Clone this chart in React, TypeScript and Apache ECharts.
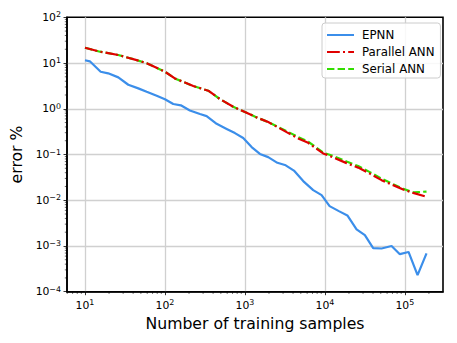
import React, { useEffect, useRef } from "react";
import * as echarts from "echarts";

// ---- data ----
const epnnSamples = [10, 11.5, 15.7, 19.5, 26.1, 34.8, 46.4, 59.1, 78.8, 100, 127, 158, 205, 274, 332, 443, 591, 750, 952, 1213, 1540, 1955, 2548, 3236, 4099, 5358, 7145, 9098, 11450, 14960, 19100, 24900, 31620, 40180, 51140, 68200, 86600, 111200, 144200, 186600];
const epnnError = [11.5, 10.9, 6.46, 5.96, 4.86, 3.35, 2.79, 2.35, 1.92, 1.61, 1.27, 1.19, 0.92, 0.766, 0.692, 0.468, 0.363, 0.294, 0.229, 0.145, 0.103, 0.0877, 0.0658, 0.058, 0.0445, 0.0262, 0.0166, 0.0129, 0.00743, 0.00578, 0.00465, 0.0023, 0.00172, 0.000895, 0.000881, 0.001, 0.000662, 0.00074, 0.00023, 0.000686];

const annSamples = [10, 15.4, 26.1, 44.3, 59.1, 100, 133, 226, 348, 487, 714, 1000, 1400, 1955, 3320, 4640, 6180, 9520, 13330, 18680, 26090, 36520, 51140, 71400, 95200, 127000, 186600];
const parallelError = [21.6, 17.7, 15.0, 11.6, 9.93, 6.46, 4.6, 3.14, 2.48, 1.63, 1.106, 0.85, 0.648, 0.512, 0.309, 0.225, 0.18, 0.1057, 0.0834, 0.0648, 0.0517, 0.0382, 0.0275, 0.0214, 0.0171, 0.0145, 0.0119];
const serialError = [21.6, 17.7, 15.0, 11.6, 9.93, 6.46, 4.6, 3.14, 2.48, 1.63, 1.106, 0.85, 0.648, 0.512, 0.325, 0.24, 0.191, 0.11, 0.09, 0.07, 0.0558, 0.0412, 0.0297, 0.0225, 0.0179, 0.0148, 0.0155];

const seriesNames = ["EPNN", "Parallel ANN", "Serial ANN"];

const xMin = 5.957;
const xMax = 300000;
const yMin = 1e-4;
const yMax = 1e2;

const xMinorTicks = [6, 7, 8, 9, 20, 30, 40, 50, 60, 70, 80, 90, 200, 300, 400, 500, 600, 700, 800, 900, 2000, 3000, 4000, 5000, 6000, 7000, 8000, 9000, 20000, 30000, 40000, 50000, 60000, 70000, 80000, 90000, 200000];
const yMinorTicks = [
  2e-4, 3e-4, 4e-4, 5e-4, 6e-4, 7e-4, 8e-4, 9e-4,
  2e-3, 3e-3, 4e-3, 5e-3, 6e-3, 7e-3, 8e-3, 9e-3,
  2e-2, 3e-2, 4e-2, 5e-2, 6e-2, 7e-2, 8e-2, 9e-2,
  0.2, 0.3, 0.4, 0.5, 0.6, 0.7, 0.8, 0.9,
  2, 3, 4, 5, 6, 7, 8, 9,
  20, 30, 40, 50, 60, 70, 80, 90,
];

const powLabel = (v: number) => {
  const e = Math.round(Math.log10(v));
  const s = e < 0 ? "\u2212" + String(-e) : String(e);
  return "{b|10}{s|" + s + "}";
};
const FONT = "DejaVu Sans";
const labelRich = {
  b: { fontFamily: FONT, fontSize: 10.8, color: "#000" },
  s: { fontFamily: FONT, fontSize: 7.9, color: "#000", padding: [0, 0, 5, 0] },
};

export default function App() {
  const ref = useRef<HTMLDivElement>(null);
  useEffect(() => {
    document.body.style.margin = "0";
    const chart = echarts.init(ref.current!, null, { renderer: "svg" });
    const zip = (xs: number[], ys: number[]) => xs.map((x, i) => [x, ys[i]]);
    const gridColor = "#d0d0d0";
    chart.setOption({
      animation: false,
      backgroundColor: "#ffffff",
      textStyle: { fontFamily: FONT, color: "#000" },
      grid: {
        left: 67, right: 14, top: 17.3, bottom: 51.3,
        show: true, borderColor: "#000", borderWidth: 1.6, backgroundColor: "transparent",
      },
      legend: {
        data: seriesNames,
        orient: "vertical",
        left: 322, top: 23,
        itemWidth: 27, itemHeight: 14, itemGap: 5,
        padding: [6, 6, 3, 4],
        backgroundColor: "rgba(255,255,255,0.85)",
        borderColor: "#cccccc", borderWidth: 1, borderRadius: 3,
        itemStyle: { opacity: 0, borderWidth: 0 },
        textStyle: { fontFamily: FONT, fontSize: 11.8, color: "#000", padding: [0, 0, 0, 3] },
      },
      xAxis: {
        type: "log", logBase: 10, min: xMin, max: xMax,
        name: "Number of training samples", nameLocation: "middle", nameGap: 19,
        nameTextStyle: { fontFamily: FONT, fontSize: 15.7, color: "#000" },
        axisLine: { show: true, lineStyle: { color: "#000", width: 1.6 } },
        axisTick: { show: true, inside: false, length: 3.5, lineStyle: { color: "#000", width: 0.8 } },
        axisLabel: {
          showMinLabel: false, showMaxLabel: false, margin: 7,
          fontFamily: FONT, fontSize: 10.8, color: "#000", formatter: powLabel, rich: labelRich,
        },
        splitLine: { show: true, showMinLine: false, showMaxLine: false, lineStyle: { color: gridColor, width: 1.3 } },
      },
      yAxis: {
        type: "log", logBase: 10, min: yMin, max: yMax,
        name: "error %", nameLocation: "middle", nameGap: 30, nameRotate: 90,
        nameTextStyle: { fontFamily: FONT, fontSize: 15.7, color: "#000" },
        axisLine: { show: true, lineStyle: { color: "#000", width: 1.6 } },
        axisTick: { show: true, inside: false, length: 3.5, lineStyle: { color: "#000", width: 0.8 } },
        axisLabel: { margin: 6, fontFamily: FONT, fontSize: 10.8, color: "#000", formatter: powLabel, rich: labelRich },
        splitLine: { show: true, showMinLine: false, showMaxLine: false, lineStyle: { color: gridColor, width: 1.3 } },
      },
      series: [
        {
          name: seriesNames[0], type: "line", data: zip(epnnSamples, epnnError),
          symbol: "none", showSymbol: false, color: "#3b8eea",
          lineStyle: { color: "#3b8eea", width: 2.2 }, z: 3,
        },
        {
          name: seriesNames[2], type: "line", data: zip(annSamples, serialError),
          symbol: "none", showSymbol: false, color: "#33dd00",
          lineStyle: { color: "#33dd00", width: 2.2, type: [7.4, 3.2] }, z: 4,
        },
        {
          name: seriesNames[1], type: "line", data: zip(annSamples, parallelError),
          symbol: "none", showSymbol: false, color: "#e00000",
          lineStyle: { color: "#e00000", width: 2.2, type: [12.8, 3.2, 2, 3.2] }, z: 5,
        },
        {
          type: "custom", silent: true, z: 6,
          data: xMinorTicks.map((v) => [v, yMin]),
          renderItem: (params: any, api: any) => {
            const p = api.coord([api.value(0), api.value(1)]);
            return { type: "line", shape: { x1: p[0], y1: p[1], x2: p[0], y2: p[1] + 2.2 }, style: { stroke: "#000", lineWidth: 0.6 } };
          },
        },
        {
          type: "custom", silent: true, z: 6,
          data: yMinorTicks.map((v) => [xMin, v]),
          renderItem: (params: any, api: any) => {
            const p = api.coord([api.value(0), api.value(1)]);
            return { type: "line", shape: { x1: p[0], y1: p[1], x2: p[0] - 2.2, y2: p[1] }, style: { stroke: "#000", lineWidth: 0.6 } };
          },
        },
      ],
    });
    return () => chart.dispose();
  }, []);
  return <div ref={ref} style={{ width: 457, height: 343 }} />;
}
